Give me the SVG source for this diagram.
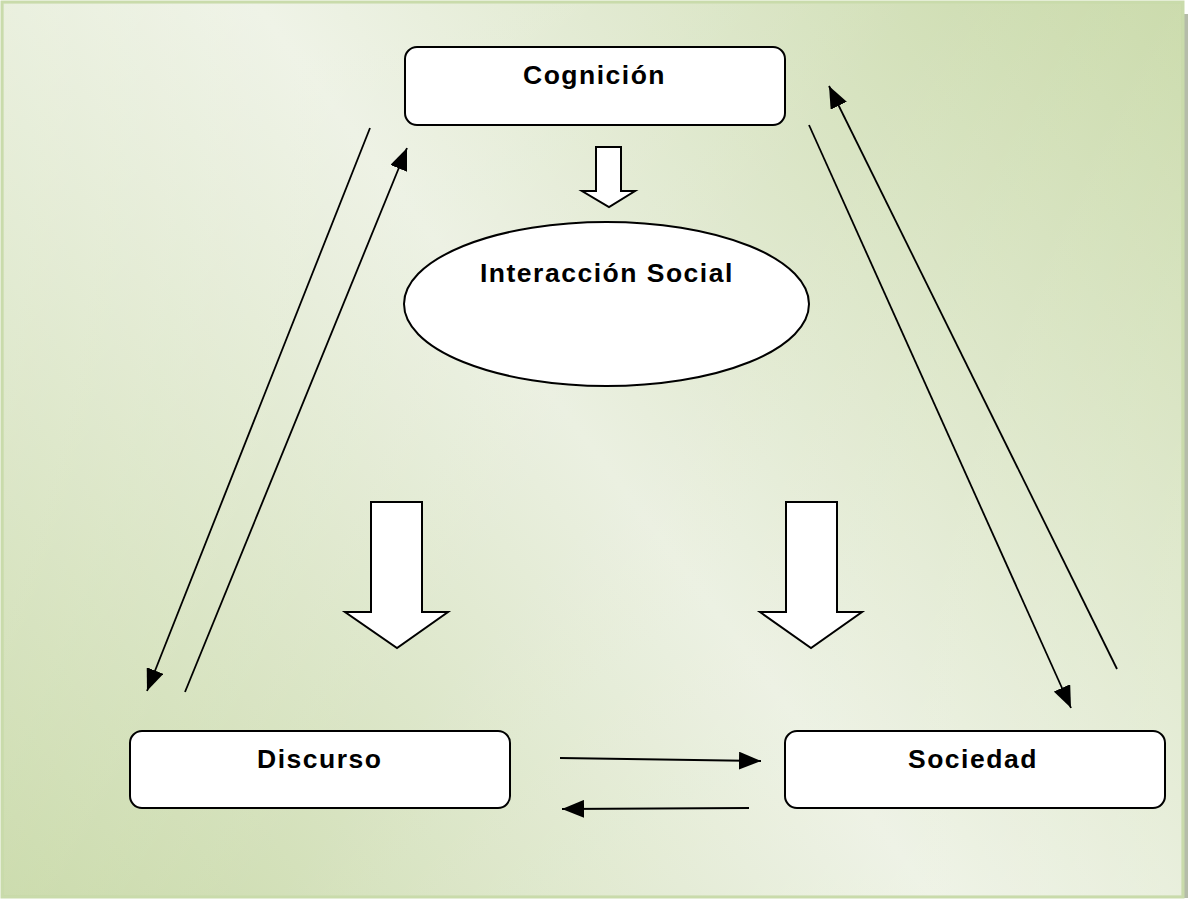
<svg xmlns="http://www.w3.org/2000/svg" width="1188" height="900" viewBox="0 0 1188 900">
<defs>
<linearGradient id="bg" x1="1188" y1="0" x2="0" y2="900" gradientUnits="userSpaceOnUse">
<stop offset="0" stop-color="#c8d9a7"/>
<stop offset="0.5" stop-color="#ebf0e1"/>
<stop offset="1" stop-color="#c8d9a7"/>
</linearGradient>
<linearGradient id="bg2" x1="0" y1="0" x2="1188" y2="900" gradientUnits="userSpaceOnUse">
<stop offset="0" stop-color="#ffffff" stop-opacity="0.3"/>
<stop offset="0.5" stop-color="#ffffff" stop-opacity="0"/>
<stop offset="1" stop-color="#ffffff" stop-opacity="0.25"/>
</linearGradient>
<marker id="ah" viewBox="0 0 22 18" refX="22" refY="9" markerWidth="22" markerHeight="18" markerUnits="userSpaceOnUse" orient="auto">
<path d="M0,0 L22,9 L0,18 Z" fill="#000"/>
</marker>
</defs>
<style>
.box{fill:#fff;stroke:#000;stroke-width:2}
.lbl{font-family:"Liberation Sans",Arial,sans-serif;font-weight:bold;font-size:26.5px;letter-spacing:1.5px;fill:#000}
.con{stroke:#000;stroke-width:1.8;fill:none;marker-end:url(#ah)}
.blk{fill:#fff;stroke:#000;stroke-width:2;stroke-linejoin:miter}
</style>
<rect x="1181" y="14" width="7" height="884" fill="#b5bca9"/>
<rect x="2" y="2" width="1181" height="895" fill="url(#bg)" stroke="#c9dbab" stroke-width="3"/>
<rect x="4" y="4" width="1177" height="891" fill="url(#bg2)"/>
<g id="cognicion">
<rect class="box" x="405" y="47" width="380" height="78" rx="12"/>
<text class="lbl" x="523" y="84">Cognición</text>
</g>
<g id="interaccion">
<ellipse class="box" cx="606.5" cy="304" rx="202.5" ry="82"/>
<text class="lbl" x="480" y="282">Interacción Social</text>
</g>
<g id="discurso">
<rect class="box" x="130" y="731" width="380" height="77" rx="12"/>
<text class="lbl" x="257" y="768">Discurso</text>
</g>
<g id="sociedad">
<rect class="box" x="785" y="731" width="380" height="77" rx="12"/>
<text class="lbl" x="908" y="768">Sociedad</text>
</g>
<g id="block-arrows">
<path class="blk" d="M596,147 H621 V191 H635 L609,207 L582,191 H596 Z"/>
<path class="blk" d="M371,502 H422 V612 H448 L397,648 L345,612 H371 Z"/>
<path class="blk" d="M786,502 H837 V612 H862 L811,648 L760,612 H786 Z"/>
</g>
<g id="connectors">
<line class="con" x1="370" y1="128" x2="147" y2="691"/>
<line class="con" x1="185" y1="692" x2="407" y2="148"/>
<line class="con" x1="809" y1="125" x2="1071" y2="708"/>
<line class="con" x1="1117" y1="669" x2="829" y2="86"/>
<line class="con" x1="560" y1="758" x2="761" y2="761"/>
<line class="con" x1="749" y1="808" x2="562" y2="809"/>
</g>
</svg>
